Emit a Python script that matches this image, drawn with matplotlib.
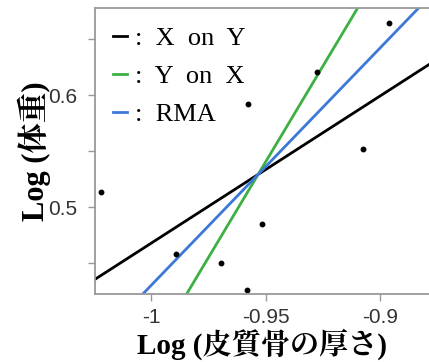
import numpy as np
import matplotlib
matplotlib.use("Agg")
import matplotlib.pyplot as plt
from matplotlib.lines import Line2D

# log cortical thickness (x) and log body weight (y)
log_thick = [-1.0218, -0.9891, -0.9696, -0.9581, -0.9515, -0.9576, -0.9276, -0.8961, -0.9076]
log_weight = [0.5137, 0.4580, 0.4500, 0.4262, 0.4851, 0.5920, 0.6208, 0.6646, 0.5518]
line_names = ["X  on  Y", "Y  on  X", "RMA"]
line_colors = ["black", "#3cb043", "#3c78d8"]

x = np.array(log_thick)
y = np.array(log_weight)
mx, my = x.mean(), y.mean()
sxx = np.sum((x - mx) ** 2)
syy = np.sum((y - my) ** 2)
sxy = np.sum((x - mx) * (y - my))
slopes = [sxy / sxx, syy / sxy, np.sqrt(syy / sxx)]

fig = plt.figure(figsize=(4.29, 3.62), dpi=100)
ax = fig.add_axes([0.2214, 0.1878, 0.7786, 0.79])

xlim = (-1.0245, -0.8786)
ylim = (0.4223, 0.6777)
xs = np.array(xlim)
handles = []
for s, c, name in zip(slopes, line_colors, line_names):
    ax.plot(xs, my + s * (xs - mx), color=c, lw=2.0)
    handles.append(Line2D([], [], color=c, lw=2.0))
ax.plot(x, y, "o", color="black", ms=3.2)

ax.set_xlim(*xlim)
ax.set_ylim(*ylim)
ax.set_xticks([-1, -0.95, -0.9])
ax.set_xticklabels(["-1", "-0.95", "-0.9"])
ax.set_yticks([0.45, 0.5, 0.55, 0.6, 0.65])
ax.set_yticklabels(["", "0.5", "", "0.6", ""])

for sp in ax.spines.values():
    sp.set_color("#999999")
    sp.set_linewidth(1.3)
ax.spines["right"].set_visible(False)
ax.tick_params(colors="#999999", labelcolor="#333333", length=5, width=1,
               labelsize=15)
ax.tick_params(axis="y", pad=8)
ax.tick_params(axis="x", pad=5)
for lab in ax.get_xticklabels() + ax.get_yticklabels():
    lab.set_family(["Liberation Sans", "DejaVu Sans"])

lab_font = ["Liberation Serif", "Noto Serif CJK JP", "Noto Sans CJK JP"]
ax.set_xlabel("Log (皮質骨の厚さ)", family=lab_font, fontsize=21,
              fontweight="bold", labelpad=1)
ax.set_ylabel("Log (体重)", family=lab_font, fontsize=22,
              fontweight="bold", labelpad=-2)

leg = ax.legend(handles, [":  " + n for n in line_names], loc="upper left",
                frameon=False, handlelength=0.5, handletextpad=0.3,
                labelspacing=0.55, borderaxespad=0.4, borderpad=0.3,
                prop={"family": "Liberation Serif", "size": 19})

fig.savefig("out.png", dpi=100)
